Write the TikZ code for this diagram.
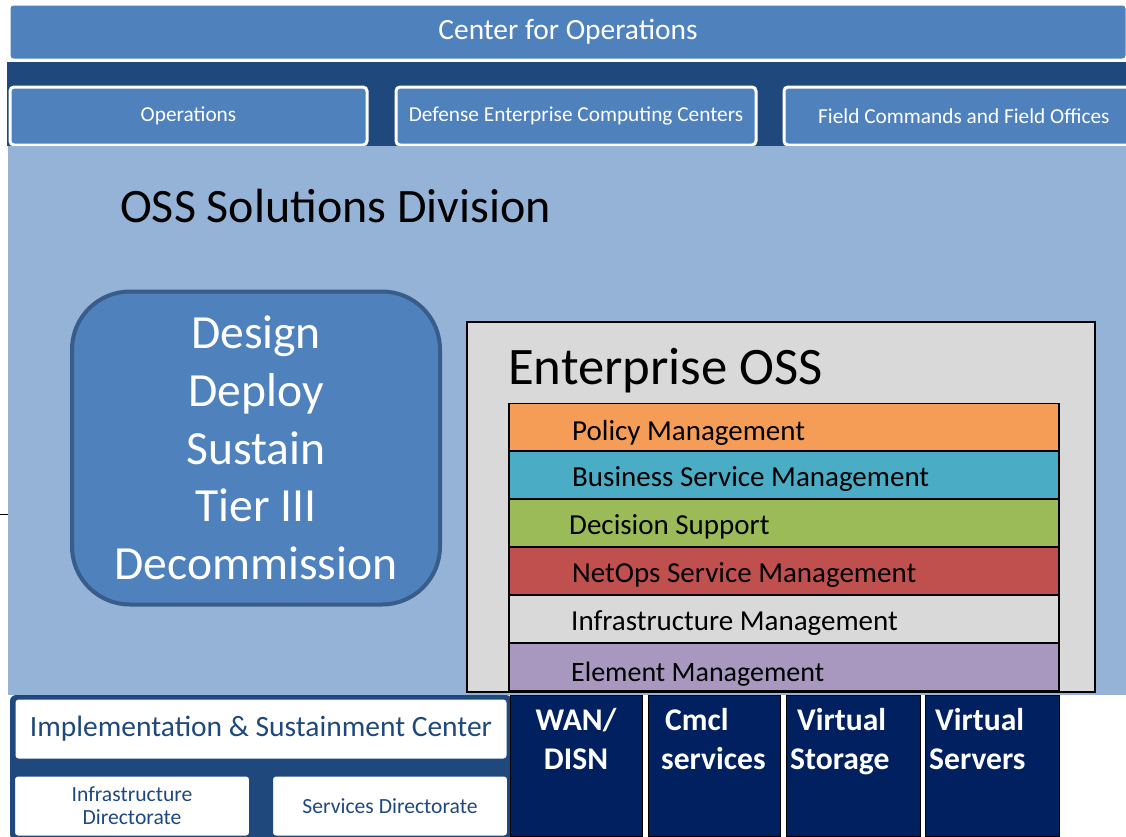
\documentclass[tikz,border=0pt]{standalone}
\usepackage{fontspec}
\setmainfont{Carlito}
\definecolor{blueA}{HTML}{4F81BD}
\definecolor{band}{HTML}{1F497D}
\definecolor{panel}{HTML}{95B3D7}
\definecolor{bborder}{HTML}{385D8A}
\definecolor{grayb}{HTML}{D9D9D9}
\definecolor{lorange}{HTML}{F59D56}
\definecolor{lteal}{HTML}{4BACC6}
\definecolor{lgreen}{HTML}{9BBB59}
\definecolor{lred}{HTML}{C0504D}
\definecolor{lpurple}{HTML}{A898BF}
\definecolor{navy}{HTML}{002060}
\tikzset{
  topbox/.style={draw=white, line width=3pt, fill=blueA, rounded corners=4pt, text=white, inner sep=0pt},
  layer/.style={draw=black, line width=1.5pt, minimum width=550pt, minimum height=47pt, inner sep=0pt},
  ltext/.style={anchor=west, font=\fontsize{29}{33}\selectfont, text=black, inner sep=0pt},
  navybox/.style={draw=black, line width=1pt, fill=navy, minimum height=141pt, inner sep=0pt},
  navytext/.style={text=white, font=\fontsize{31.6}{39.5}\bfseries\selectfont, anchor=north, inner sep=0pt},
  whitebox/.style={draw=band, line width=3pt, fill=white, rounded corners=4pt, text=band, inner sep=0pt}
}
\begin{document}
\begin{tikzpicture}[x=1pt,y=-1pt]
\useasboundingbox[fill=white] (0,0) rectangle (1126,836);
% top
\node[topbox, minimum width=1118pt, minimum height=56pt, font=\fontsize{29.4}{34}\selectfont] (cfo) at (568,32) {Center for Operations};
\fill[band] (7,62) rectangle (1126,146);
\node[topbox, minimum width=357pt, minimum height=58pt, font=\fontsize{21.3}{25}\selectfont] (ops) at (188.5,116) {Operations};
\node[topbox, minimum width=360pt, minimum height=58pt, font=\fontsize{21.3}{25}\selectfont] (decc) at (576,116) {Defense Enterprise Computing Centers};
\node[topbox, minimum width=350pt, minimum height=58pt] (fc) at (959,116) {};
\node[anchor=west, inner sep=0pt, text=white, font=\fontsize{21.3}{25}\selectfont] (fct) at (818,116) {Field Commands and Field Offices};
% panel
\fill[panel] (8,146) rectangle (1126,695);
\node[anchor=west, inner sep=0pt, font=\fontsize{48}{56}\selectfont] (ossd) at (120,206) {OSS Solutions Division};
\draw[black, line width=1pt] (0,514) -- (8,514);
% left rounded box
\node[draw=bborder, line width=4pt, fill=blueA, rounded corners=58pt, minimum width=368pt, minimum height=313pt, text=white, align=center, font=\fontsize{47.6}{57.7}\selectfont, inner sep=0pt] (life) at (256,448) {Design\\Deploy\\Sustain\\Tier III\\Decommission};
% enterprise OSS
\node[draw=black, line width=2pt, fill=grayb, minimum width=628pt, minimum height=370pt, inner sep=0pt] (eoss) at (781,507) {};
\node[anchor=west, inner sep=0pt, font=\fontsize{52.7}{60}\selectfont] (eosst) at (508,371) {Enterprise OSS};
\node[layer, fill=lorange] (l1) at (784,427) {};
\node[layer, fill=lteal] (l2) at (784,475) {};
\node[layer, fill=lgreen] (l3) at (784,523) {};
\node[layer, fill=lred] (l4) at (784,571) {};
\node[layer, fill=grayb] (l5) at (784,619) {};
\node[layer, fill=lpurple] (l6) at (784,667) {};
\node[ltext] (t1) at (572,433) {Policy Management};
\node[ltext] (t2) at (572,479) {Business Service Management};
\node[ltext] (t3) at (569,527) {Decision Support};
\node[ltext] (t4) at (572,575) {NetOps Service Management};
\node[ltext] (t5) at (571,623) {Infrastructure Management};
\node[ltext, font=\fontsize{28}{32}\selectfont] (t6) at (571,674) {Element Management};
% bottom left
\fill[band, rounded corners=6pt] (10,695) rectangle (512,840);
\node[whitebox, minimum width=494pt, minimum height=62pt, font=\fontsize{29.5}{34}\selectfont] (isc) at (261,729) {Implementation \& Sustainment Center};
\node[whitebox, minimum width=237pt, minimum height=62pt, align=center, font=\fontsize{21.6}{23}\selectfont] (infd) at (132,806) {Infrastructure\\Directorate};
\node[whitebox, minimum width=237pt, minimum height=62pt, font=\fontsize{21.6}{25}\selectfont] (svcd) at (390,806) {Services Directorate};
% navy boxes
\node[navybox, minimum width=132pt] (wan) at (576,766) {};
\node[navybox, minimum width=132pt] (cmcl) at (714,766) {};
\node[navybox, minimum width=134pt] (vsto) at (853,766) {};
\node[navybox, minimum width=134pt] (vser) at (992,766) {};
\node[navytext, align=center] (want) at (576,708) {WAN/\\DISN};
\node[navytext, align=left, anchor=north west] (cmclt) at (661,708) {\hspace{4pt}Cmcl\\services};
\node[navytext, align=left, anchor=north west] (vstot) at (790,708) {\hspace{7pt}Virtual\\Storage};
\node[navytext, align=left, anchor=north west] (vsert) at (929,708) {\hspace{6pt}Virtual\\Servers};
\end{tikzpicture}
\end{document}
